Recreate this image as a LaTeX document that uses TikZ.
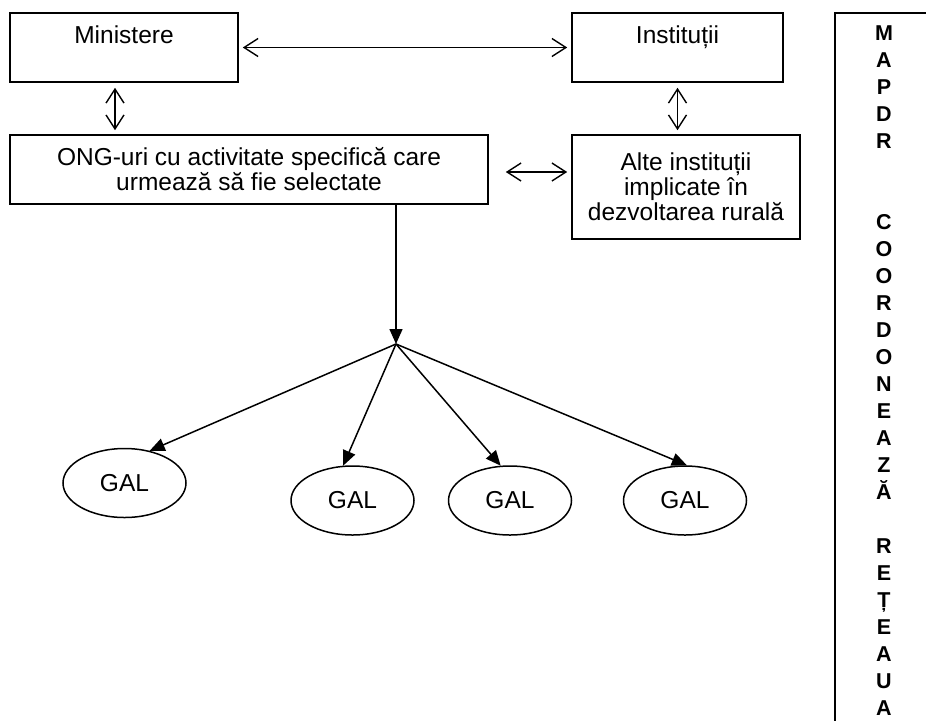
\documentclass[tikz,border=0pt]{standalone}
\usepackage{fontspec}
\setmainfont{Liberation Sans}
\usetikzlibrary{arrows.meta,shapes.geometric}

\begin{document}
\begin{tikzpicture}[x=1pt, y=-1pt,
    box/.style={draw, line width=1.6pt, align=center, inner sep=0pt, font=\fontsize{24.5}{25}\selectfont},
    gal/.style={draw, ellipse, line width=1.5pt, minimum width=123pt, minimum height=69pt, inner sep=0pt, font=\fontsize{24.5}{25}\selectfont},
    both/.style={line width=1.4pt, {Straight Barb[length=14pt,width=18pt]}-{Straight Barb[length=14pt,width=18pt]}},
    down/.style={line width=1.5pt, -{Triangle[length=15pt,width=13pt]}},
    vletter/.style={anchor=base, inner sep=0pt, font=\fontsize{21.5}{27}\selectfont\bfseries}]

    \useasboundingbox (0,0) rectangle (926,721);

    % Institutions
    \node[box, minimum width=228pt, minimum height=69pt] (min) at (124,47.5) {Ministere\\\mbox{}};
    \node[box, minimum width=211pt, minimum height=69pt] (inst) at (677.5,47.5) {Instituții\\\mbox{}};
    \node[box, minimum width=478pt, minimum height=69pt] (ong) at (249,169.5) {ONG-uri cu activitate specifică care\\urmează să fie selectate};
    \node[box, minimum width=228pt, minimum height=104pt] (alte) at (686,187) {Alte instituții\\implicate în\\dezvoltarea rurală};

    % Two-way links
    \draw[both, shorten <=4pt, shorten >=4pt] (min.east) -- (inst.west);
    \draw[both, shorten <=5pt, shorten >=4pt] ([xshift=-9pt]min.south) -- ([xshift=-9pt]min.south |- ong.north);
    \draw[both, shorten <=5pt, shorten >=4pt] (inst.south) -- (inst.south |- alte.north);
    \draw[both, shorten <=17pt, shorten >=4pt] ([yshift=-2.5pt]ong.east) -- ([yshift=-2.5pt]ong.east -| alte.west);

    % GAL network
    \coordinate (hub) at (396,344);
    \node[gal] (g1) at (124.5,483) {GAL};
    \node[gal] (g2) at (352.5,500.5) {GAL};
    \node[gal] (g3) at (510,500.5) {GAL};
    \node[gal] (g4) at (685,500.5) {GAL};

    \draw[down] (hub |- ong.south) -- (hub);
    \draw[down] (hub) -- (g1.52);
    \draw[down] (hub) -- (g2.105);
    \draw[down] (hub) -- (g3.105);
    \draw[down] (hub) -- (g4.87);

    % Side column
    \draw[line width=1.6pt] (926,13) -- (835,13) -- (835,721);
    \foreach \row/\ltr in {0/M,1/A,2/P,3/D,4/R,7/C,8/O,9/O,10/R,11/D,12/O,13/N,14/E,15/A,16/Z,17/Ă,19/R,20/E,21/Ț,22/E,23/A,24/U,25/A}
        \node[vletter] (v\row) at (884,{40+27*\row}) {\ltr};
\end{tikzpicture}
\end{document}
